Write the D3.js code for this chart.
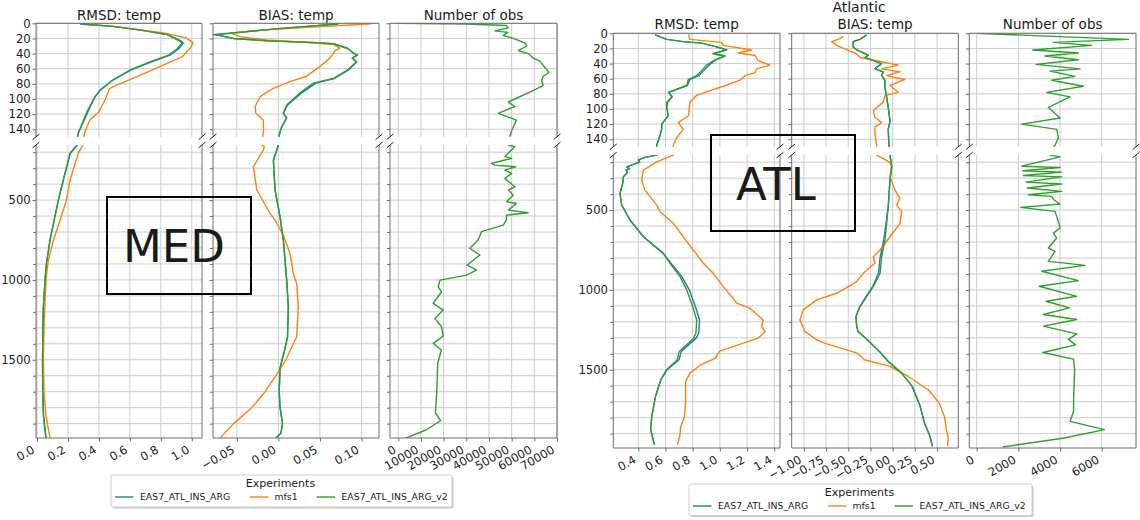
<!DOCTYPE html>
<html>
<head>
<meta charset="utf-8">
<script src="https://cdn.jsdelivr.net/npm/d3@7"></script>
<style>
body { margin: 0; background: #fff; }
svg text { font-family: "DejaVu Sans", sans-serif; fill: #1a1a1a; }
</style>
</head>
<body>
<svg id="chart" width="1140" height="520"></svg>
<script>
// ---- data: [depth, value] ----
var experiments = ["EAS7_ATL_INS_ARG", "mfs1", "EAS7_ATL_INS_ARG_v2"];
var colors = ["#1f77b4", "#ff7f0e", "#2ca02c"];

var yTicksTop = [0, 20, 40, 60, 80, 100, 120, 140];
var yTicksMajor = [500, 1000, 1500];
var yTicksMinor = [200, 300, 400, 600, 700, 800, 900, 1100, 1200, 1300, 1400, 1600, 1700, 1800, 1900];

var medRmsdTicks = [0, 0.2, 0.4, 0.6, 0.8, 1.0];
var medBiasTicks = [-0.05, 0, 0.05, 0.10];
var medNobsTicks = [0, 10000, 20000, 30000, 40000, 50000, 60000, 70000];
var atlRmsdTicks = [0.4, 0.6, 0.8, 1.0, 1.2, 1.4];
var atlBiasTicks = [-1, -0.75, -0.5, -0.25, 0, 0.25, 0.5];
var atlNobsTicks = [0, 2000, 4000, 6000];

// MED
var medRmsdArg = [[1,0.28],[4,0.49],[9,0.67],[15,0.845],[24,0.935],[26,0.945],[34,0.915],[42,0.86],[51,0.74],[62,0.605],[75,0.49],[88,0.41],[97,0.375],[114,0.335],[128,0.305],[145,0.267],[155,0.26],[207,0.214],[374,0.17],[500,0.138],[751,0.084],[919,0.058],[1170,0.041],[1379,0.037],[1500,0.036],[1700,0.037],[1850,0.042],[1990,0.058]];
var medRmsdMfs = [[1,0.30],[4,0.49],[12,0.80],[19,0.96],[25.5,1.008],[33,0.99],[44,0.94],[53,0.84],[64,0.72],[77,0.57],[86,0.47],[101,0.44],[117,0.40],[128,0.34],[143,0.31],[155,0.296],[207,0.267],[374,0.214],[500,0.19],[626,0.149],[751,0.106],[877,0.073],[1002,0.058],[1253,0.047],[1379,0.043],[1500,0.041],[1700,0.045],[1850,0.058],[1990,0.084]];
var medRmsdV2 = [[1,0.28],[4,0.49],[9,0.67],[15,0.84],[24,0.925],[26,0.936],[34,0.904],[42,0.85],[51,0.73],[62,0.60],[75,0.49],[88,0.41],[97,0.375],[114,0.33],[128,0.30],[145,0.267],[155,0.26],[207,0.214],[374,0.17],[500,0.138],[751,0.084],[919,0.058],[1170,0.041],[1379,0.037],[1500,0.036],[1700,0.037],[1850,0.042],[1990,0.058]];

var medBiasArg = [[1,0.072],[7,0.0],[15,-0.078],[20,-0.054],[23,-0.014],[25.5,0.046],[27,0.066],[33,0.083],[40,0.091],[42,0.095],[46,0.089],[51,0.094],[62,0.084],[73,0.067],[79,0.045],[92,0.028],[108,0.011],[119,0.006],[125,0.010],[137,0.004],[145,0.0015],[155,0.0],[250,-0.006],[437,-0.004],[605,0.002],[751,0.006],[1002,0.010],[1170,0.012],[1358,0.011],[1450,0.007],[1550,0.002],[1700,0.001],[1800,0.002],[1900,0.005],[1960,0.003],[1990,-0.003]];
var medBiasMfs = [[0.5,0.112],[5,0.04],[9,-0.02],[13,-0.058],[18,-0.045],[22,-0.014],[25,0.03],[28,0.066],[33,0.074],[36,0.068],[40,0.066],[46,0.062],[57,0.050],[70,0.034],[77,0.014],[86,-0.006],[97,-0.022],[110,-0.028],[119,-0.027],[128,-0.018],[145,-0.018],[155,-0.020],[165,-0.017],[186,-0.018],[220,-0.022],[291,-0.030],[437,-0.026],[584,-0.010],[626,-0.004],[720,0.006],[835,0.014],[960,0.018],[1023,0.022],[1170,0.024],[1358,0.022],[1400,0.018],[1500,0.009],[1600,-0.003],[1700,-0.016],[1800,-0.032],[1900,-0.054],[1990,-0.070]];
var medBiasV2 = [[1,0.072],[7,0.0],[15,-0.074],[20,-0.054],[23,-0.014],[25.5,0.046],[27,0.066],[33,0.083],[40,0.091],[42,0.095],[46,0.089],[51,0.094],[62,0.083],[73,0.066],[79,0.042],[92,0.026],[108,0.010],[119,0.006],[125,0.010],[137,0.004],[145,0.0015],[155,0.0],[250,-0.006],[437,-0.004],[605,0.002],[751,0.006],[1002,0.010],[1170,0.012],[1358,0.011],[1450,0.007],[1550,0.002],[1700,0.001],[1800,0.002],[1900,0.005],[1960,0.003],[1990,-0.003]];

var medNobs = [[0,0],[1,30000],[3,47700],[6,48500],[10,42600],[12,48300],[16,46300],[20,50700],[26,55800],[30,56600],[36,52900],[40,57300],[46,59500],[50,62400],[58,64600],[65,66500],[70,63900],[76,63200],[82,63900],[88,60200],[104,48500],[110,51400],[119,44100],[128,52100],[142,50000],[155,48500],[165,51400],[228,47000],[239,50000],[260,44000],[270,41100],[281,42600],[291,51800],[312,47000],[333,50000],[364,47000],[417,51400],[437,48500],[469,50700],[510,47700],[521,52100],[563,48500],[579,57300],[594,47700],[625,47700],[657,46300],[698,36700],[750,35200],[802,31600],[844,36000],[907,30400],[938,34500],[970,30100],[1001,18400],[1043,17600],[1074,19100],[1147,15400],[1189,19800],[1241,16200],[1293,19100],[1352,19800],[1397,15400],[1439,19000],[1523,17400],[1690,17000],[1832,16400],[1882,18700],[1940,12200],[1992,3000]];

// Atlantic
var atlRmsdArg = [[2,0.523],[8,0.609],[11,0.731],[13,0.866],[18,0.976],[22,1.05],[27,0.951],[30,1.037],[35,0.97],[42,0.92],[49,0.88],[56,0.845],[61,0.78],[69,0.76],[78,0.625],[84,0.65],[91,0.615],[98,0.609],[109,0.62],[120,0.572],[127,0.572],[138,0.554],[148,0.535],[156,0.535],[170,0.45],[185,0.40],[200,0.41],[215,0.36],[229,0.315],[240,0.335],[250,0.31],[265,0.32],[292,0.29],[333,0.285],[396,0.265],[469,0.278],[562,0.339],[667,0.437],[771,0.584],[833,0.64],[917,0.72],[1000,0.775],[1104,0.82],[1188,0.85],[1271,0.845],[1302,0.825],[1385,0.715],[1437,0.70],[1500,0.612],[1562,0.566],[1667,0.526],[1792,0.499],[1875,0.491],[1969,0.518]];
var atlRmsdMfs = [[2,0.768],[8,0.78],[12,1.013],[16,1.025],[22,1.234],[26,1.135],[29,1.258],[36,1.282],[42,1.368],[47,1.27],[52,1.258],[56,1.185],[62,1.148],[70,1.025],[78,0.89],[82,0.829],[91,0.78],[109,0.768],[118,0.694],[127,0.731],[138,0.682],[148,0.657],[156,0.657],[198,0.535],[250,0.437],[312,0.425],[375,0.449],[469,0.535],[510,0.56],[583,0.657],[750,0.804],[833,0.878],[896,0.951],[979,1.025],[1083,1.124],[1115,1.221],[1188,1.319],[1229,1.307],[1260,1.332],[1300,1.285],[1385,0.994],[1427,0.968],[1469,0.86],[1521,0.78],[1573,0.748],[1708,0.748],[1792,0.74],[1854,0.713],[1917,0.705],[1969,0.687]];
var atlRmsdV2 = [[2,0.523],[8,0.609],[11,0.731],[13,0.866],[18,0.976],[22,1.05],[27,0.951],[30,1.037],[35,0.964],[42,0.903],[49,0.866],[56,0.829],[61,0.768],[69,0.756],[78,0.62],[84,0.646],[91,0.609],[98,0.609],[109,0.62],[120,0.572],[127,0.572],[138,0.554],[148,0.535],[156,0.535],[170,0.45],[185,0.40],[200,0.41],[215,0.36],[229,0.315],[240,0.335],[250,0.31],[265,0.32],[292,0.29],[333,0.285],[396,0.265],[469,0.278],[562,0.339],[667,0.437],[771,0.584],[833,0.633],[917,0.707],[1000,0.756],[1104,0.8],[1188,0.829],[1271,0.824],[1302,0.807],[1385,0.70],[1437,0.687],[1500,0.607],[1562,0.566],[1667,0.526],[1792,0.499],[1875,0.491],[1969,0.518]];

var atlBiasArg = [[2,-0.293],[8,-0.368],[11,-0.444],[18,-0.444],[22,-0.405],[26,-0.331],[29,-0.275],[32,-0.312],[36,-0.218],[40,-0.124],[47,-0.2],[51,-0.106],[56,-0.124],[62,-0.087],[71,-0.087],[84,-0.068],[98,-0.05],[116,-0.03],[127,-0.05],[147,-0.042],[156,-0.03],[229,-0.011],[312,-0.03],[479,-0.05],[583,-0.075],[687,-0.10],[792,-0.14],[896,-0.16],[979,-0.225],[1042,-0.30],[1104,-0.37],[1167,-0.413],[1229,-0.405],[1260,-0.39],[1300,-0.31],[1385,-0.15],[1448,-0.05],[1521,0.10],[1604,0.22],[1729,0.31],[1833,0.358],[1917,0.42],[1979,0.448]];
var atlBiasMfs = [[4,-0.556],[7,-0.593],[11,-0.687],[16,-0.63],[21,-0.537],[27,-0.405],[32,-0.368],[35,-0.236],[42,0.063],[47,-0.124],[51,0.082],[56,-0.068],[61,0.139],[69,-0.03],[78,0.063],[82,-0.087],[91,-0.106],[102,-0.218],[111,-0.2],[118,-0.124],[124,-0.2],[133,-0.2],[148,-0.18],[156,-0.18],[198,-0.04],[219,-0.011],[292,-0.03],[375,0.026],[427,0.082],[469,0.045],[510,0.101],[583,0.082],[667,-0.03],[750,-0.143],[792,-0.218],[833,-0.2],[896,-0.331],[948,-0.405],[1021,-0.63],[1062,-0.856],[1125,-1.007],[1188,-1.044],[1260,-0.99],[1312,-0.856],[1333,-0.768],[1396,-0.399],[1437,-0.318],[1479,-0.03],[1542,0.175],[1625,0.4],[1708,0.523],[1792,0.583],[1875,0.605],[1927,0.625],[1979,0.617]];
var atlBiasV2 = [[2,-0.293],[8,-0.368],[11,-0.444],[18,-0.444],[22,-0.405],[26,-0.331],[29,-0.275],[32,-0.312],[36,-0.218],[40,-0.124],[47,-0.2],[51,-0.106],[56,-0.124],[62,-0.087],[71,-0.087],[84,-0.068],[98,-0.05],[116,-0.03],[127,-0.05],[147,-0.042],[156,-0.03],[229,-0.011],[312,-0.03],[479,-0.05],[583,-0.068],[687,-0.087],[792,-0.124],[896,-0.143],[979,-0.218],[1042,-0.293],[1104,-0.368],[1167,-0.413],[1229,-0.405],[1260,-0.39],[1300,-0.31],[1385,-0.15],[1448,-0.05],[1521,0.10],[1604,0.22],[1729,0.31],[1833,0.358],[1917,0.42],[1979,0.448]];

var atlNobs = [[0,0],[8,7280],[12,3680],[16,5520],[22,2690],[26,4880],[30,3280],[35,4880],[41,2850],[47,4960],[50,3520],[57,4720],[62,3600],[70,5120],[78,3360],[84,4480],[98,3440],[112,4000],[120,2160],[127,3840],[138,3920],[148,3760],[156,3520],[167,4000],[225,2160],[233,4000],[254,2210],[262,4080],[283,2240],[292,4080],[325,2370],[337,4080],[362,2430],[383,4080],[404,2480],[414,3600],[435,3700],[462,4000],[483,2110],[508,3760],[571,3920],[612,4000],[644,3680],[675,3840],[737,3440],[758,3760],[821,3440],[846,5200],[883,3120],[942,4880],[977,3000],[1040,4800],[1071,3330],[1112,4450],[1154,3200],[1185,4800],[1227,3200],[1275,4800],[1310,4400],[1344,4740],[1392,3170],[1433,4650],[1500,4700],[1687,4650],[1760,4650],[1823,4480],[1875,6130],[1927,4210],[1983,1250]];

// ---- layout ----
var figures = [
  { key: "med", title: null, topY: 23.3, breakY: 136.8, botY: 145, bottomY: 438, titleY: 19.5,
    panelX: [[36, 202], [213, 379], [390, 557]],
    box: { x: 107, y: 197, w: 144, h: 97, label: "MED", tx: 174, ty: 262 },
    legend: { x: 111, y: 475, w: 341, h: 32 },
    panels: [
      { title: "RMSD: temp", domain: [-0.0065, 1.066], ticks: medRmsdTicks, fmt: d3.format(".1f"), series: [medRmsdArg, medRmsdMfs, medRmsdV2] },
      { title: "BIAS: temp", domain: [-0.0787, 0.1211], ticks: medBiasTicks, fmt: d3.format(".2f"), series: [medBiasArg, medBiasMfs, medBiasV2] },
      { title: "Number of obs", domain: [-3650, 70000], ticks: medNobsTicks, fmt: d3.format("d"), series: [null, null, medNobs] }
    ] },
  { key: "atl", title: "Atlantic", titleX: 859, topY: 33.3, breakY: 146.8, botY: 155, bottomY: 448, titleY: 29,
    panelX: [[613.3, 780], [791.7, 958.3], [969.3, 1136]],
    box: { x: 711, y: 135, w: 144, h: 96, label: "ATL", tx: 776, ty: 200 },
    legend: { x: 689, y: 484, w: 343, h: 31.5 },
    panels: [
      { title: "RMSD: temp", domain: [0.216, 1.442], ticks: atlRmsdTicks, fmt: d3.format(".1f"), series: [atlRmsdArg, atlRmsdMfs, atlRmsdV2] },
      { title: "BIAS: temp", domain: [-1.137, 0.739], ticks: atlBiasTicks, fmt: d3.format(".2f"), series: [atlBiasArg, atlBiasMfs, atlBiasV2] },
      { title: "Number of obs", domain: [-355, 7646], ticks: atlNobsTicks, fmt: d3.format("d"), series: [null, null, atlNobs] }
    ] }
];

var svg = d3.select("#chart");
var defs = svg.append("defs");
var GRID = "#cbcbcb", SPINE = "#6b6b6b";
var depthFmt = d3.format("d");

function styleAxis(sel) {
  sel.select(".domain").remove();
  sel.selectAll(".tick line").attr("stroke", SPINE).attr("stroke-width", 1);
  sel.selectAll(".tick text").style("font-size", "11.6px").attr("fill", "#1a1a1a");
}

function breakMark(g, x, y) {
  g.append("line").attr("x1", x - 3.4).attr("y1", y + 2.8).attr("x2", x + 3.4).attr("y2", y - 2.8)
    .attr("stroke", "#222").attr("stroke-width", 1);
}

figures.forEach(function(L) {
  var g = svg.append("g");
  var yTop = d3.scaleLinear().domain([0, 150]).range([L.topY, L.breakY]);
  var yBot = d3.scaleLinear().domain([155, 1990]).range([L.botY, L.bottomY]);

  if (L.title) {
    g.append("text").attr("x", L.titleX).attr("y", 12).attr("text-anchor", "middle")
      .style("font-size", "14px").text(L.title);
  }

  L.panels.forEach(function(p, i) {
    var x0 = L.panelX[i][0], x1 = L.panelX[i][1];
    var x = d3.scaleLinear().domain(p.domain).range([x0, x1]);
    var pg = g.append("g");

    pg.append("text").attr("x", (x0 + x1) / 2).attr("y", L.titleY).attr("text-anchor", "middle")
      .style("font-size", "13.5px").text(p.title);

    // grid
    var grid = pg.append("g").attr("stroke", GRID).attr("stroke-width", 1);
    yTicksTop.forEach(function(t) {
      grid.append("line").attr("x1", x0).attr("x2", x1).attr("y1", yTop(t)).attr("y2", yTop(t));
    });
    yTicksMinor.concat(yTicksMajor).forEach(function(t) {
      grid.append("line").attr("x1", x0).attr("x2", x1).attr("y1", yBot(t)).attr("y2", yBot(t));
    });
    p.ticks.forEach(function(t) {
      grid.append("line").attr("x1", x(t)).attr("x2", x(t)).attr("y1", L.topY).attr("y2", L.breakY);
      grid.append("line").attr("x1", x(t)).attr("x2", x(t)).attr("y1", L.botY).attr("y2", L.bottomY);
    });

    // clip paths
    var idT = "clip-" + L.key + i + "t", idB = "clip-" + L.key + i + "b";
    defs.append("clipPath").attr("id", idT).append("rect")
      .attr("x", x0).attr("y", L.topY).attr("width", x1 - x0).attr("height", L.breakY - L.topY);
    defs.append("clipPath").attr("id", idB).append("rect")
      .attr("x", x0).attr("y", L.botY).attr("width", x1 - x0).attr("height", L.bottomY - L.botY);

    var lineTop = d3.line().x(function(d) { return x(d[1]); }).y(function(d) { return yTop(d[0]); });
    var lineBot = d3.line().x(function(d) { return x(d[1]); }).y(function(d) { return yBot(d[0]); });
    var gT = pg.append("g").attr("clip-path", "url(#" + idT + ")");
    var gB = pg.append("g").attr("clip-path", "url(#" + idB + ")");
    p.series.forEach(function(s, k) {
      if (!s) return;
      gT.append("path").datum(s).attr("d", lineTop).attr("fill", "none")
        .attr("stroke", colors[k]).attr("stroke-width", 1.4).attr("stroke-linejoin", "round");
      gB.append("path").datum(s).attr("d", lineBot).attr("fill", "none")
        .attr("stroke", colors[k]).attr("stroke-width", 1.4).attr("stroke-linejoin", "round");
    });

    // spines
    var sp = pg.append("g").attr("stroke", SPINE).attr("stroke-width", 1).attr("fill", "none");
    sp.append("path").attr("d", "M" + x0 + "," + L.breakY + "V" + L.topY + "H" + x1 + "V" + L.breakY);
    sp.append("path").attr("d", "M" + x0 + "," + L.botY + "V" + L.bottomY + "H" + x1 + "V" + L.botY);

    // y axes
    var axT = d3.axisLeft(yTop).tickValues(yTicksTop).tickSize(3.5).tickPadding(1.8).tickFormat(depthFmt);
    var axM = d3.axisLeft(yBot).tickValues(yTicksMajor).tickSize(3.5).tickPadding(1.8).tickFormat(depthFmt);
    var axm = d3.axisLeft(yBot).tickValues(yTicksMinor).tickSize(3).tickFormat("");
    if (i > 0) { axT.tickFormat(""); axM.tickFormat(""); }
    pg.append("g").attr("transform", "translate(" + x0 + ",0)").call(axT).call(styleAxis);
    pg.append("g").attr("transform", "translate(" + x0 + ",0)").call(axM).call(styleAxis);
    pg.append("g").attr("transform", "translate(" + x0 + ",0)").call(axm).call(styleAxis);

    // x axis
    var axX = d3.axisBottom(x).tickValues(p.ticks).tickFormat(p.fmt).tickSize(3.5);
    var gx = pg.append("g").attr("transform", "translate(0," + L.bottomY + ")").call(axX).call(styleAxis);
    gx.selectAll(".tick text")
      .attr("x", 0).attr("y", 0).attr("dy", null)
      .attr("transform", "translate(-2,14) rotate(-30)")
      .style("text-anchor", "end");

    // break marks
    [x0, x1].forEach(function(xx) {
      breakMark(pg, xx, L.breakY);
      breakMark(pg, xx, L.botY);
    });
  });

  // annotation box
  var b = L.box;
  g.append("rect").attr("x", b.x).attr("y", b.y).attr("width", b.w).attr("height", b.h)
    .attr("fill", "none").attr("stroke", "#000").attr("stroke-width", 2);
  g.append("text").attr("x", b.tx).attr("y", b.ty).attr("text-anchor", "middle")
    .style("font-size", "45px").attr("fill", "#000").text(b.label);

  // legend
  var lg = L.legend;
  var leg = g.append("g").attr("transform", "translate(" + lg.x + "," + lg.y + ")");
  leg.append("rect").attr("x", 1.5).attr("y", 1.5).attr("width", lg.w).attr("height", lg.h)
    .attr("rx", 2).attr("fill", "#9a9a9a").attr("opacity", 0.55);
  leg.append("rect").attr("width", lg.w).attr("height", lg.h).attr("rx", 2)
    .attr("fill", "#fff").attr("stroke", "#d0d0d0").attr("stroke-width", 1);
  leg.append("text").attr("x", lg.w / 2 - 1).attr("y", 12).attr("text-anchor", "middle")
    .style("font-size", "11px").text("Experiments");
  var lineX = [4, 139, 205.5], textX = [29, 163.5, 230.5];
  experiments.forEach(function(name, k) {
    leg.append("line").attr("x1", lineX[k]).attr("x2", lineX[k] + 18.5).attr("y1", 22).attr("y2", 22)
      .attr("stroke", colors[k]).attr("stroke-width", 1.4);
    leg.append("text").attr("x", textX[k]).attr("y", 25.3).style("font-size", "9.3px").text(name);
  });
});
</script>
</body>
</html>
